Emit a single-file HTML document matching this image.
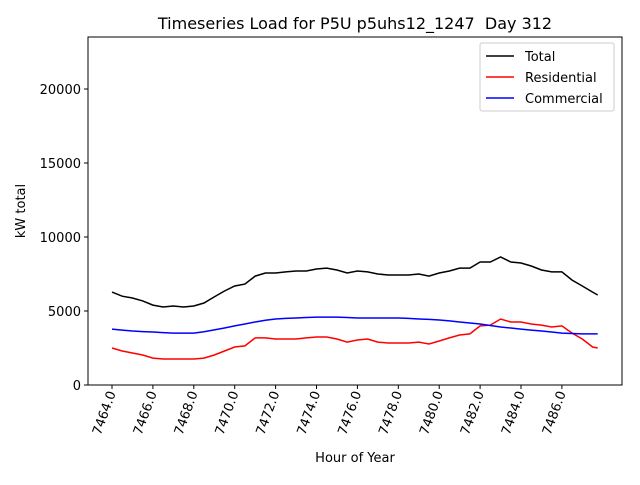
<!DOCTYPE html>
<html><head><meta charset="utf-8"><style>
body{margin:0;background:#fff;font-family:"Liberation Sans","DejaVu Sans",sans-serif}
</style></head><body>
<svg id="chart" width="640" height="480" xmlns="http://www.w3.org/2000/svg" font-family="DejaVu Sans, Liberation Sans, sans-serif">
<rect width="640" height="480" fill="#fff"/>
<text x="355" y="29" font-size="16" text-anchor="middle">Timeseries Load for P5U p5uhs12_1247&#160; Day 312</text>
<rect x="88" y="37" width="534" height="348" fill="none" stroke="#000" stroke-width="1"/>
<g id="yticks"></g><g id="xticks"></g><g id="series"></g>
<text x="0" y="0" font-size="13" text-anchor="middle" transform="translate(25,211) rotate(-90)">kW total</text>
<text x="355" y="462" font-size="13" text-anchor="middle">Hour of Year</text>
<g>
<rect x="480" y="43" width="134" height="68" fill="#fff" stroke="#ccc" rx="2"/>
<line x1="486" y1="56" x2="514" y2="56" stroke="#000" stroke-width="1.5"/>
<text x="525" y="61" font-size="13">Total</text>
<line x1="486" y1="77" x2="514" y2="77" stroke="#f00" stroke-width="1.5"/>
<text x="525" y="82" font-size="13">Residential</text>
<line x1="486" y1="98" x2="514" y2="98" stroke="#00f" stroke-width="1.5"/>
<text x="525" y="103" font-size="13">Commercial</text>
</g>
</svg>
<script>
const hours=[7464,7464.5,7465,7465.5,7466,7466.5,7467,7467.5,7468,7468.5,7469,7469.5,7470,7470.5,7471,7471.5,7472,7472.5,7473,7473.5,7474,7474.5,7475,7475.5,7476,7476.5,7477,7477.5,7478,7478.5,7479,7479.5,7480,7480.5,7481,7481.5,7482,7482.5,7483,7483.5,7484,7484.5,7485,7485.5,7486,7486.5,7487,7487.5,7487.75];
const total=[6280,6000,5880,5680,5400,5270,5340,5270,5340,5540,5950,6350,6690,6820,7360,7570,7570,7640,7700,7700,7840,7900,7770,7570,7700,7640,7500,7430,7430,7430,7500,7360,7570,7700,7900,7900,8310,8310,8650,8310,8240,8040,7770,7640,7640,7090,6690,6280,6080];
const residential=[2500,2300,2160,2030,1820,1760,1760,1760,1760,1820,2030,2300,2570,2640,3180,3180,3110,3110,3110,3180,3240,3240,3110,2900,3040,3110,2900,2840,2840,2840,2900,2770,2970,3180,3380,3450,3990,4050,4460,4260,4260,4120,4050,3920,3990,3510,3110,2570,2500];
const commercial=[3780,3710,3650,3610,3580,3540,3510,3510,3510,3600,3720,3850,3990,4120,4260,4380,4460,4500,4530,4560,4590,4590,4590,4560,4530,4530,4530,4530,4530,4500,4460,4430,4390,4330,4260,4190,4120,4020,3920,3850,3780,3710,3650,3580,3510,3480,3450,3450,3450];
const yTicks=[0,5000,10000,15000,20000];
const xTicks=[7464,7466,7468,7470,7472,7474,7476,7478,7480,7482,7484,7486];
const NS="http://www.w3.org/2000/svg";
const X=h=>112+(h-7464)*20.45;
const Y=v=>385-v*0.0148;
const yt=document.getElementById('yticks');
yTicks.forEach(v=>{
 const l=document.createElementNS(NS,'line');
 l.setAttribute('x1',84);l.setAttribute('x2',88);l.setAttribute('y1',Y(v));l.setAttribute('y2',Y(v));l.setAttribute('stroke','#000');
 
 
 yt.appendChild(l);
 const t=document.createElementNS(NS,'text');
 t.setAttribute('x',81);t.setAttribute('y',Y(v)+5);t.setAttribute('text-anchor','end');t.setAttribute('font-size','13');
 t.textContent=v;
 
 
 yt.appendChild(t);
});
const xt=document.getElementById('xticks');
xTicks.forEach(h=>{
 const x=X(h);
 const l=document.createElementNS(NS,'line');
 l.setAttribute('x1',x);l.setAttribute('x2',x);l.setAttribute('y1',385);l.setAttribute('y2',389);l.setAttribute('stroke','#000');
 
 
 xt.appendChild(l);
 const t=document.createElementNS(NS,'text');
 t.setAttribute('transform','translate('+(x+4)+',393) rotate(-70)');
 t.setAttribute('text-anchor','end');t.setAttribute('font-size','13');
 t.textContent=h.toFixed(1);
 
 
 xt.appendChild(t);
});
const sg=document.getElementById('series');
[[total,'#000','total-line'],[residential,'#f00','residential-line'],[commercial,'#00f','commercial-line']].forEach(([arr,c,n])=>{
 const p=document.createElementNS(NS,'polyline');
 p.setAttribute('points',arr.map((v,i)=>X(hours[i]).toFixed(1)+','+Y(v).toFixed(1)).join(' '));
 p.setAttribute('fill','none');p.setAttribute('stroke',c);p.setAttribute('stroke-width','1.5');
 
 
 sg.appendChild(p);
});
</script>
</body></html>
